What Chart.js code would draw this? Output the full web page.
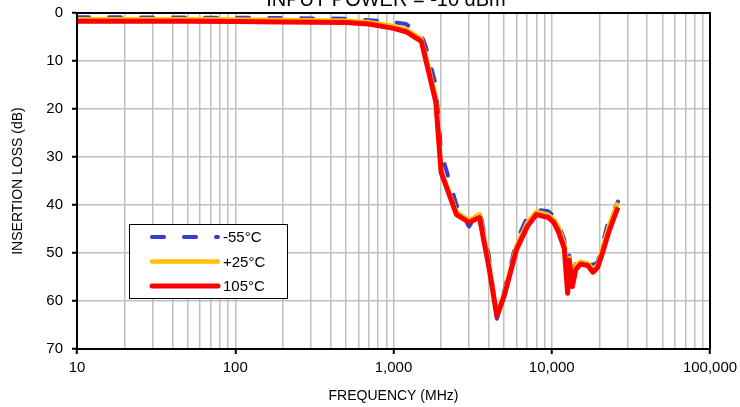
<!DOCTYPE html>
<html>
<head>
<title>Insertion loss vs frequency</title>
<style>
  body { margin: 0; background: #fff; }
  .chart-container { width: 740px; height: 407px; }
</style>
</head>
<body>
<div class="chart-container"><canvas id="mycanvas"></canvas></div>
<script src="https://cdn.jsdelivr.net/npm/chart.js@4.4.0/dist/chart.umd.min.js"></script>
<script>
// frequency points (MHz) shared by all three temperature curves
var freqMHz = [10, 20, 50, 100, 200, 500, 700, 1000, 1200, 1500, 1600, 1850, 2000, 2500, 3000, 3500, 3700, 4000, 4500, 5000,
  6000, 7000, 8000, 9500, 10300, 11000, 12000, 12600, 12900, 13500, 14200, 15200, 16900, 18200, 19500, 21000, 23000, 24500, 26200];

// insertion loss (dB)
var lossMinus55 = [0.9, 0.9, 0.95, 1.0, 1.05, 1.2, 1.5, 1.9, 2.3, 4.6, 7, 15, 29, 40, 44.5, 41, 45, 50.5, 63.7, 58,
  47.5, 42.5, 41, 41.3, 42.3, 44, 47.2, 55.5, 50.5, 55, 52, 51.5, 51.7, 52.5, 52, 48, 42.8, 41.3, 39.3];
var lossPlus25 = [1.3, 1.3, 1.3, 1.35, 1.45, 1.6, 1.9, 2.7, 3.4, 5.4, 9, 17.5, 32.8, 41.5, 43.2, 41.9, 46, 52, 63, 58.5,
  48.5, 43.7, 41.4, 42, 43, 44.5, 48, 56.5, 51, 55.5, 52.5, 51.8, 52.2, 53.3, 52.5, 48.8, 44.3, 41.8, 39.5];
var loss105 = [1.7, 1.7, 1.7, 1.75, 1.85, 2.0, 2.3, 3.2, 3.9, 5.9, 9.8, 18.5, 33.2, 42, 43.6, 42.6, 47, 52.8, 63.2, 59,
  49.2, 44.5, 42, 42.6, 43.6, 45.5, 49, 58.4, 51.5, 57, 53.4, 52.3, 52.6, 54, 53, 49.8, 45.5, 43, 40.5];

var seriesLabels = ['-55°C', '+25°C', '105°C'];
var xDecades = [10, 100, 1000, 10000, 100000];
var chartTitle = 'INPUT POWER = -10 dBm';

// gridlines at 1..9 x each decade
var xGrid = [];
for (var d = 0; d < xDecades.length - 1; d++) {
  for (var m = 1; m < 10; m++) xGrid.push(xDecades[d] * m);
}
xGrid.push(xDecades[xDecades.length - 1]);

function isDecade(v) {
  var lg = Math.log10(v);
  return Math.abs(lg - Math.round(lg)) < 1e-9;
}

function pts(arr) {
  return freqMHz.map(function (f, i) { return { x: f, y: arr[i] }; });
}

var FONT = "'Liberation Sans', Arial, sans-serif";

var framePlugin = {
  id: 'frame',
  afterDraw: function (chart) {
    var ctx = chart.ctx, a = chart.chartArea;
    ctx.save();
    ctx.strokeStyle = '#000';
    ctx.lineWidth = 2;
    ctx.strokeRect(a.left, a.top, a.right - a.left, a.bottom - a.top);

    // title, sitting above the frame (cut by the top edge)
    ctx.fillStyle = '#000';
    ctx.font = '20px ' + FONT;
    ctx.textAlign = 'center';
    ctx.textBaseline = 'alphabetic';
    ctx.fillText(chartTitle, 386, 6);

    // legend box inside the plot
    var bx = 129, by = 224, bw = 158, bh = 74;
    ctx.fillStyle = '#fff';
    ctx.fillRect(bx, by, bw, bh);
    ctx.lineWidth = 1;
    ctx.strokeRect(bx + 0.5, by + 0.5, bw, bh);
    ctx.textBaseline = 'middle';
    var ds = chart.data.datasets;
    for (var i = 0; i < ds.length; i++) {
      var yy = by + 13 + i * 24.5;
      ctx.beginPath();
      ctx.strokeStyle = ds[i].borderColor;
      ctx.lineWidth = ds[i].borderWidth;
      ctx.lineCap = 'round';
      ctx.setLineDash(ds[i].borderDash || []);
      ctx.moveTo(bx + 23, yy);
      ctx.lineTo(bx + 89, yy);
      ctx.stroke();
      ctx.setLineDash([]);
      ctx.fillStyle = '#000';
      ctx.font = '15px ' + FONT;
      ctx.textAlign = 'left';
      ctx.fillText(ds[i].label, bx + 94, yy + 1);
    }
    ctx.restore();
  }
};

new Chart(document.getElementById('mycanvas'), {
  type: 'line',
  data: {
    datasets: [
      { label: seriesLabels[0], data: pts(lossMinus55), borderColor: '#3a3dcc', borderWidth: 4,
        borderDash: [12, 20], borderCapStyle: 'round', order: 3 },
      { label: seriesLabels[1], data: pts(lossPlus25), borderColor: '#ffc000', borderWidth: 4.5, order: 2 },
      { label: seriesLabels[2], data: pts(loss105), borderColor: '#ff0000', borderWidth: 5, order: 1 }
    ]
  },
  options: {
    responsive: true,
    maintainAspectRatio: false,
    animation: false,
    layout: { padding: { top: 13, right: 30, left: 0, bottom: 0 } },
    elements: {
      point: { radius: 0, hoverRadius: 0 },
      line: { tension: 0, fill: false, borderJoinStyle: 'round' }
    },
    plugins: {
      legend: { display: false },
      tooltip: { enabled: false },
      title: { display: false }
    },
    scales: {
      x: {
        type: 'logarithmic',
        min: 10,
        max: 100000,
        afterFit: function (s) { s.height = 58; s.paddingLeft = 0; s.paddingRight = 0; },
        afterBuildTicks: function (s) {
          s.ticks = xGrid.map(function (v) { return { value: v, major: isDecade(v) }; });
        },
        ticks: {
          autoSkip: false,
          maxRotation: 0,
          color: '#000',
          font: { family: FONT, size: 15 },
          padding: 5,
          callback: function (v) { return isDecade(v) ? Number(v).toLocaleString('en-US') : ''; }
        },
        grid: {
          color: '#bfbfbf',
          lineWidth: 1.5,
          tickLength: 5,
          tickWidth: 2,
          tickColor: function (c) { return c.tick && isDecade(c.tick.value) ? '#000' : 'rgba(0,0,0,0)'; }
        },
        border: { display: true, color: '#000', width: 2 },
        title: { display: true, text: 'FREQUENCY (MHz)', color: '#000', font: { family: FONT, size: 14 }, padding: { top: 0, bottom: 2 } }
      },
      y: {
        reverse: true,
        min: 0,
        max: 70,
        afterFit: function (s) { s.width = 77; s.paddingTop = 0; s.paddingBottom = 0; },
        ticks: { stepSize: 10, color: '#000', font: { family: FONT, size: 15 }, padding: 9 },
        grid: { color: '#bfbfbf', lineWidth: 1.5, tickLength: 5, tickWidth: 2, tickColor: '#000' },
        border: { display: true, color: '#000', width: 2 },
        title: { display: true, text: 'INSERTION LOSS (dB)', color: '#000', font: { family: FONT, size: 14 }, padding: { top: 10, bottom: 0 } }
      }
    }
  },
  plugins: [framePlugin]
});
</script>
</body>
</html>
